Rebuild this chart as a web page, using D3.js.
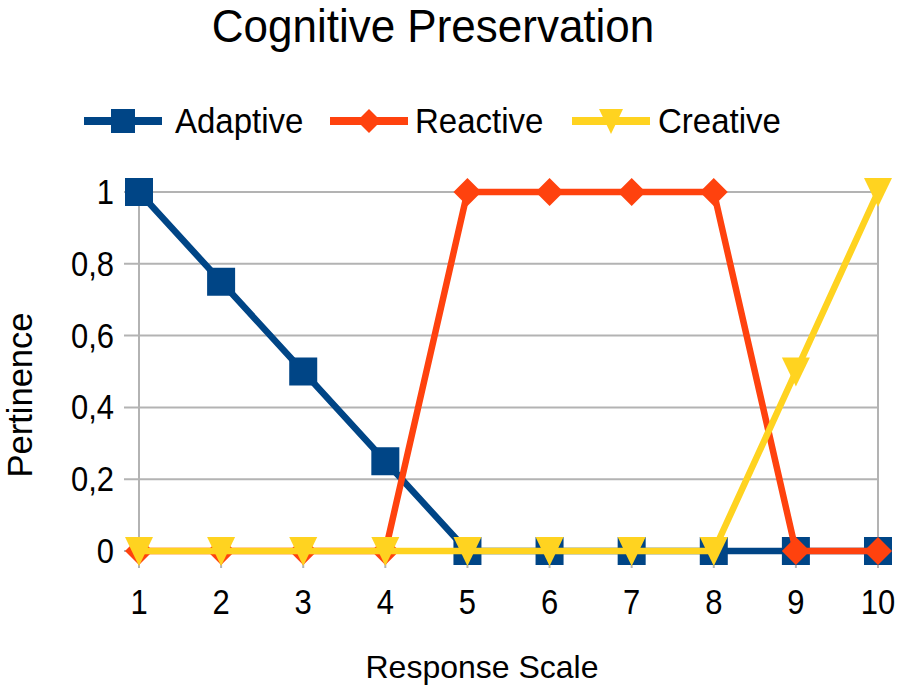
<!DOCTYPE html>
<html><head><meta charset="utf-8">
<script src="https://cdn.jsdelivr.net/npm/d3@7"></script>
<style>body{margin:0;background:#fff}svg{display:block}text{font-family:"Liberation Sans",Arial,sans-serif}</style>
</head><body>
<svg id="c" width="905" height="697"></svg>
<script>
const categories = [1,2,3,4,5,6,7,8,9,10];
const adaptive = [1,0.75,0.5,0.25,0,0,0,0,0,0];
const reactive = [0,0,0,0,1,1,1,1,0,0];
const creative = [0,0,0,0,0,0,0,0,0.5,1];
const yTicks = [0,0.2,0.4,0.6,0.8,1];
const yTickLabels = ["0","0,2","0,4","0,6","0,8","1"];
const seriesNames = ["Adaptive","Reactive","Creative"];
const colors = ["#004586","#ff420e","#ffd320"];
const seriesData = [adaptive, reactive, creative];

const svg = d3.select("#c");
const x = d3.scaleLinear().domain([1,10]).range([139,878]);
const y = d3.scaleLinear().domain([0,1]).range([551,192]);

function stretchedText(px, py, size, sy, anchor, str){
  return svg.append("text").attr("transform",`translate(${px},${py}) scale(1,${sy})`)
    .attr("text-anchor",anchor).attr("font-size",size).attr("fill","#000").text(str);
}

stretchedText(433,42,44,1.04,"middle","Cognitive Preservation");

// grid
const g = svg.append("g").attr("stroke","#b3b3b3").attr("stroke-width",2);
g.selectAll(".hg").data(yTicks).join("line")
  .attr("x1",x(1)-15).attr("x2",x(10)).attr("y1",d=>y(d)).attr("y2",d=>y(d));
g.selectAll(".vg").data([1,10]).join("line")
  .attr("x1",d=>x(d)).attr("x2",d=>x(d)).attr("y1",y(1)).attr("y2",y(0)+17);
g.selectAll(".xt").data(categories).join("line")
  .attr("x1",d=>x(d)).attr("x2",d=>x(d)).attr("y1",y(0)).attr("y2",y(0)+17);

// tick labels
yTicks.forEach((d,i)=>stretchedText(114,y(d)+12,31,1.12,"end",yTickLabels[i]));
categories.forEach(d=>stretchedText(x(d),614,31,1.12,"middle",String(d)));

stretchedText(482,678,32,1.0,"middle","Response Scale");
svg.append("text").attr("transform","translate(32,395) rotate(-90)").attr("text-anchor","middle")
  .attr("font-size",34.5).attr("fill","#000").text("Pertinence");

function marker(sel, k, cx, cy, s){
  const h = s/2;
  if(k===2){
    sel.append("path").attr("d",`M${cx-h},${cy-h}L${cx+h},${cy-h}L${cx},${cy+h+1}Z`).attr("fill",colors[k]);
  } else if(k===0){
    sel.append("rect").attr("x",cx-h).attr("y",cy-h).attr("width",s).attr("height",s).attr("fill",colors[k]);
  } else {
    sel.append("path").attr("d",`M${cx},${cy-h}L${cx+h},${cy}L${cx},${cy+h}L${cx-h},${cy}Z`).attr("fill",colors[k]);
  }
}

const line = d3.line().x((d,i)=>x(categories[i])).y(d=>y(d));
seriesData.forEach((vals,k)=>{
  const sg = svg.append("g");
  sg.append("path").attr("d",line(vals)).attr("fill","none").attr("stroke",colors[k])
    .attr("stroke-width",6.5).attr("stroke-linejoin","round");
  vals.forEach((v,i)=>marker(sg,k,x(categories[i]),y(v),28));
});

// legend
const legX = [84,330,572];
const legTX = [175,415,658];
seriesNames.forEach((n,k)=>{
  const lg = svg.append("g");
  lg.append("line").attr("x1",legX[k]).attr("x2",legX[k]+78).attr("y1",121).attr("y2",121)
    .attr("stroke",colors[k]).attr("stroke-width",8);
  marker(lg,k,legX[k]+39,121,24);
  lg.append("text").attr("transform",`translate(${legTX[k]},133) scale(1,1.07)`)
    .attr("font-size",33).attr("fill","#000").text(n);
});
</script>
</body></html>
